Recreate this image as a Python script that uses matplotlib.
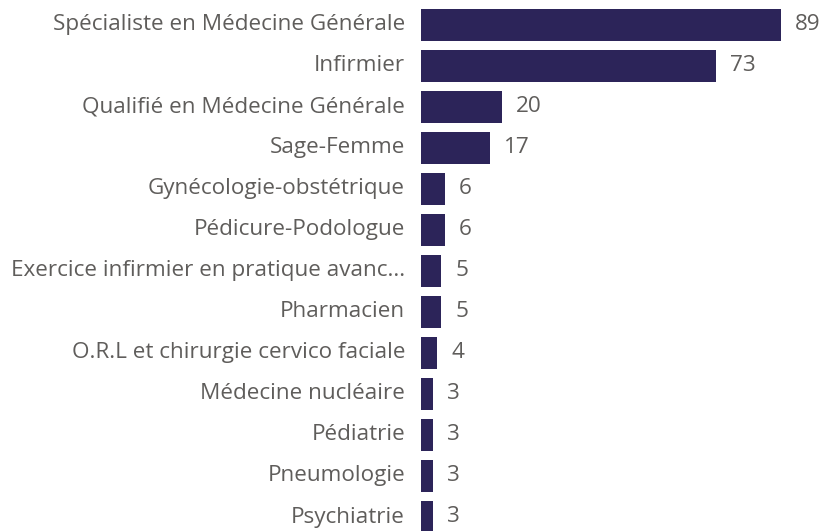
import matplotlib.pyplot as plt

# data
categories = [
    "Spécialiste en Médecine Générale",
    "Infirmier",
    "Qualifié en Médecine Générale",
    "Sage-Femme",
    "Gynécologie-obstétrique",
    "Pédicure-Podologue",
    "Exercice infirmier en pratique avanc...",
    "Pharmacien",
    "O.R.L et chirurgie cervico faciale",
    "Médecine nucléaire",
    "Pédiatrie",
    "Pneumologie",
    "Psychiatrie",
]
values = [89, 73, 20, 17, 6, 6, 5, 5, 4, 3, 3, 3, 3]

bar_color = "#2C2459"
text_color = "#5F5D5B"

W, H = 826, 531
fig = plt.figure(figsize=(W / 100, H / 100), dpi=100)
ax = fig.add_axes([421 / W, 0, 1 - 421 / W, 1])

pitch = 41
y_top = -25 / pitch
y_bottom = (H - 25) / pitch

positions = list(range(len(categories)))
ax.barh(positions, values, height=32 / pitch, color=bar_color, left=0)
ax.set_xlim(0, 89 * (W - 421) / 360)
ax.set_ylim(y_bottom, y_top)
ax.axis("off")

for pos, cat, val in zip(positions, categories, values):
    ax.annotate(cat, xy=(0, pos), xytext=(-11.5, 0), textcoords="offset points",
                ha="right", va="center", fontsize=16.2, color=text_color,
                family="Open Sans", annotation_clip=False)
    ax.annotate(str(val), xy=(val, pos), xytext=(10, 0), textcoords="offset points",
                ha="left", va="center", fontsize=16.2, color=text_color,
                family="Open Sans", annotation_clip=False)

fig.savefig("out.png", dpi=100)
